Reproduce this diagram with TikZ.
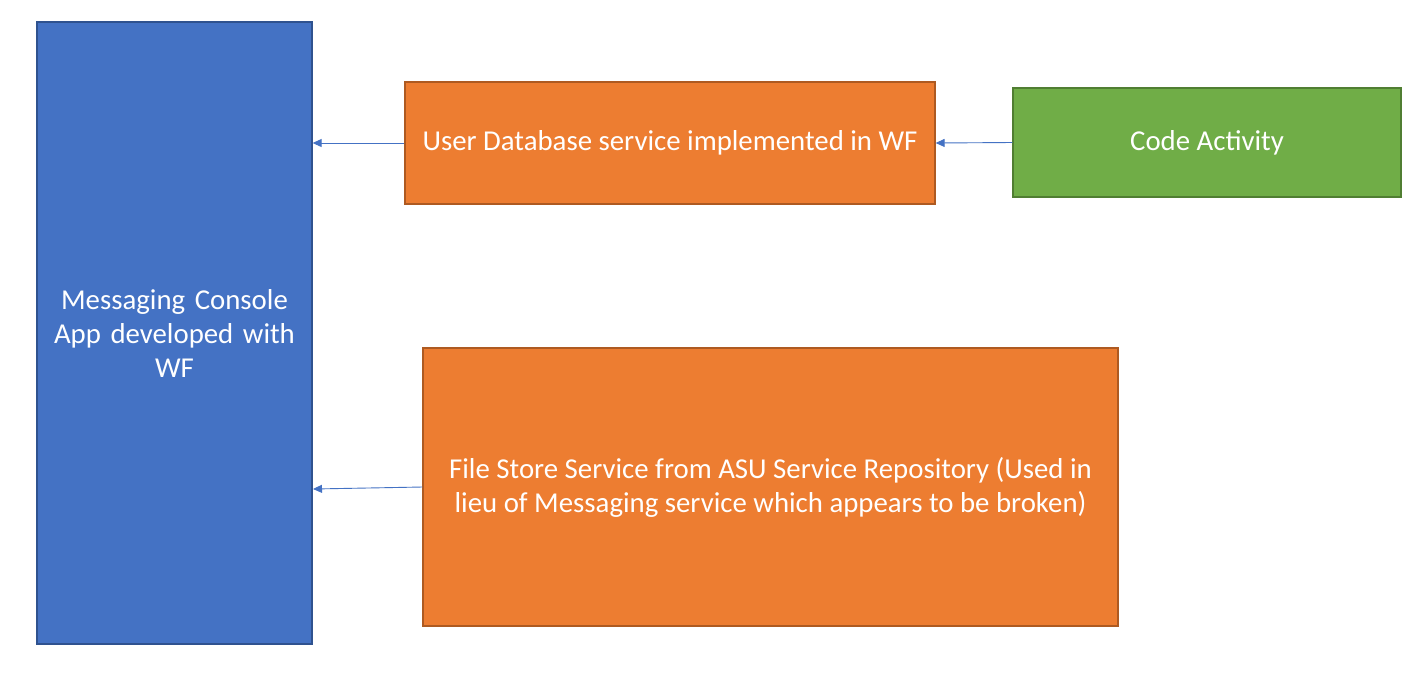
\documentclass[tikz,border=0pt]{standalone}
\usepackage{fontspec}
\setmainfont{Carlito}
\usetikzlibrary{arrows.meta}
\definecolor{wfblue}{HTML}{4472C4}
\definecolor{wfblueline}{HTML}{2F528F}
\definecolor{wforange}{HTML}{ED7D31}
\definecolor{wforangeline}{HTML}{AE5A21}
\definecolor{wfgreen}{HTML}{70AD47}
\definecolor{wfgreenline}{HTML}{507E32}
\begin{document}
\begin{tikzpicture}[x=1pt,y=-1pt,
    box/.style={draw,line width=1.3pt,text=white,align=center,inner sep=0pt,
      font=\fontsize{28.8}{34}\selectfont},
    link/.style={draw=wfblue,line width=0.9pt,-{Triangle[length=9pt,width=8pt]}}]
      \useasboundingbox[fill=white] (0,0) rectangle (1412,697);
      \node[box,fill=wfblue,draw=wfblueline,minimum width=275pt,minimum height=622pt,
        text width=265pt] (app) at (174.5,333) {Messaging Console\\App developed with\\WF};
      \node[box,fill=wforange,draw=wforangeline,minimum width=530pt,minimum height=122pt]
        (uds) at (670,143) {User Database service implemented in WF};
      \node[box,fill=wfgreen,draw=wfgreenline,minimum width=388pt,minimum height=109pt]
        (code) at (1207,142.5) {Code Activity};
      \node[box,fill=wforange,draw=wforangeline,minimum width=695pt,minimum height=278pt]
        (fs) at (770.5,487) {File Store Service from ASU Service Repository (Used in\\lieu of Messaging service which appears to be broken)};
      \coordinate (fsend) at (313,489);
      \draw[link] (code.west) -- (uds.east);
      \draw[link] (uds.west) -- (app.east |- uds.west);
      \draw[link] (fs.west) -- (fsend);
    \end{tikzpicture}
\end{document}
